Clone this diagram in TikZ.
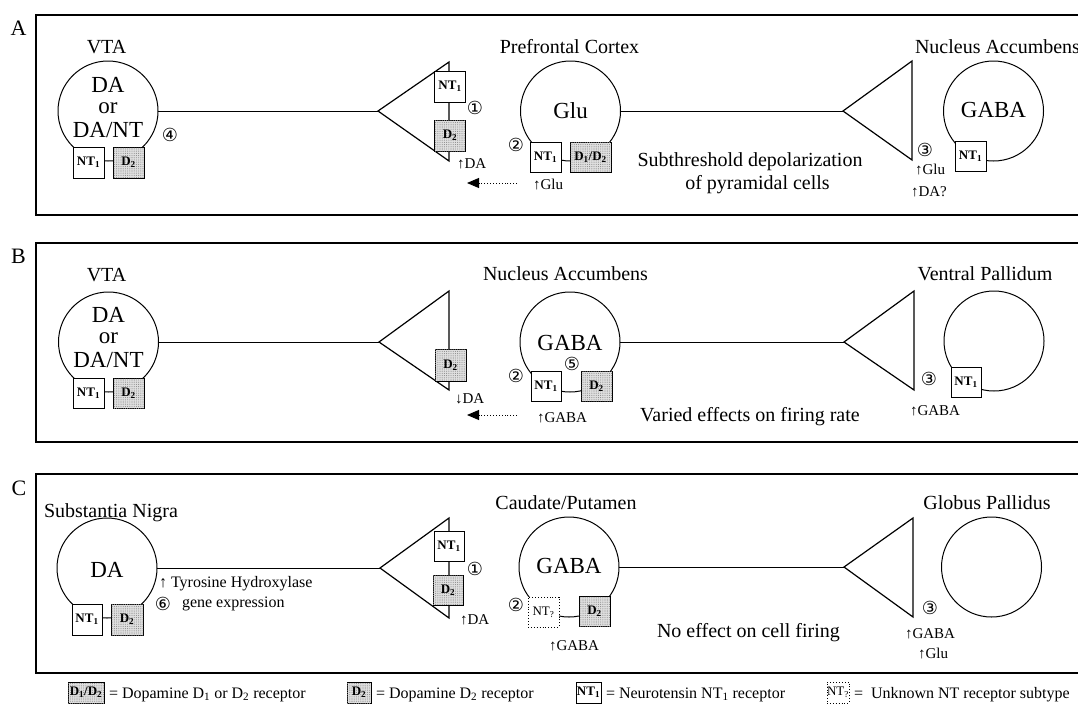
\documentclass[tikz,border=0pt]{standalone}
\usepackage{fontspec}
\setmainfont{Liberation Serif}
\newfontfamily\symfont{DejaVu Sans}
\usetikzlibrary{arrows.meta,patterns.meta}
\newcommand\setfs[1]{\fontsize{#1}{#1}\selectfont}

\begin{document}
\begin{tikzpicture}[x=1pt,y=-1pt,
  every node/.style={inner sep=0pt, outer sep=0pt},
  soma/.style={draw, circle, minimum size=100pt, line width=1pt},
  frame/.style={draw, line width=1.1pt},
  axon/.style={line width=1pt},
  term/.style={line width=1.2pt, line join=miter},
  ntbox/.style={draw, fill=white, line width=0.9pt, minimum width=31pt, minimum height=31pt,
    font=\setfs{13}\bfseries},
  dbox/.style={ntbox, fill=gray!25,
    postaction={pattern={Dots[distance=2.2pt, radius=0.55pt]}, pattern color=gray!90}},
  unkbox/.style={ntbox, dotted, font=\setfs{13}},
  letter/.style={font=\setfs{22}},
  lab/.style={font=\setfs{20}},
  big/.style={font=\setfs{23}},
  small/.style={font=\setfs{15}},
  note/.style={font=\setfs{20}},
  num/.style={font=\symfont\setfs{18}},
  leg/.style={font=\setfs{16}},
  flow/.style={dotted, line width=0.9pt, -{Triangle[length=12pt, width=10pt]}}
]
\useasboundingbox (0,0) rectangle (1078,710);
\clip (0,0) rectangle (1078,710);

% ---------------- panel frames and letters
\draw[frame] (36,15) rectangle (1110,215);
\draw[frame] (36,243) rectangle (1110,442);
\draw[frame] (36,474) rectangle (1110,673);
\node[letter, anchor=base] (pA) at (18.5,35) {A};
\node[letter, anchor=base] (pB) at (18.5,263) {B};
\node[letter, anchor=base] (pC) at (19,495) {C};

% ================= Panel A =================
\node[soma] (vtaA) at (108,111) {};
\node[soma] (pfcA) at (570.5,111) {};
\node[soma] (nacA) at (993.5,111) {};
\coordinate (tipA1) at (378,111); \coordinate (topA1) at (449,62); \coordinate (botA1) at (449,161);
\coordinate (tipA2) at (843,111); \coordinate (topA2) at (912,61); \coordinate (botA2) at (912,160);
\draw[axon] (vtaA.east) -- (tipA1);
\draw[axon] (pfcA.east) -- (tipA2);
\draw[term] (tipA1) -- (topA1) -- (botA1) -- cycle;
\draw[term] (tipA2) -- (topA2) -- (botA2) -- cycle;

\node[ntbox] (vtaAnt) at (88.5,162.5) {NT\textsubscript{1}};
\node[dbox] (vtaAd) at (128.5,162.5) {D\textsubscript{2}};
\node[ntbox] (trmAnt) at (450,86.5) {NT\textsubscript{1}};
\node[dbox] (trmAd) at (450,135.5) {D\textsubscript{2}};
\node[ntbox, minimum height=30pt] (pfcAnt) at (545.5,157) {NT\textsubscript{1}};
\node[dbox, minimum width=41pt, minimum height=30pt] (pfcAd) at (590.5,157) {D\textsubscript{1}/D\textsubscript{2}};
\node[ntbox, minimum height=30pt] (nacAnt) at (970.5,156) {NT\textsubscript{1}};

\node[lab, anchor=base] (vtaAname) at (106.5,53) {VTA};
\node[lab, anchor=base] (pfcAname) at (569.5,53) {Prefrontal Cortex};
\node[lab, anchor=base west] (nacAname) at (915,53) {Nucleus Accumbens};
\node[big, anchor=base] (vtaAt1) at (108,92) {DA};
\node[big, anchor=base] (vtaAt2) at (108,113) {or};
\node[big, anchor=base] (vtaAt3) at (108,137) {DA/NT};
\node[big, anchor=base] (pfcAt) at (570.5,118) {Glu};
\node[big, anchor=base] (nacAt) at (993.5,117) {GABA};
\node[num] (nA4) at (170,135) {④};
\node[num] (nA1) at (475,108) {①};
\node[num] (nA2) at (516,145) {②};
\node[num] (nA3) at (925,150) {③};
\node[small, anchor=base west] (daA) at (457,168) {↑DA};
\node[small, anchor=base west] (gluA) at (533,189) {↑Glu};
\node[small, anchor=base west] (gluA2) at (915,174) {↑Glu};
\node[small, anchor=base west] (daA2) at (911,196) {↑DA?};
\node[note, anchor=base] (effA1) at (750,166) {Subthreshold depolarization};
\node[note, anchor=base] (effA2) at (757.5,189) {of pyramidal cells};
\coordinate (arrAs) at (517,183); \coordinate (arrAe) at (467,183);
\draw[flow] (arrAs) -- (arrAe);

% ================= Panel B =================
\node[soma] (vtaB) at (108.5,342) {};
\node[soma] (nacB) at (570,342) {};
\node[soma] (vpB) at (994,341) {};
\coordinate (tipB1) at (379,342); \coordinate (topB1) at (449,291); \coordinate (botB1) at (449,390);
\coordinate (tipB2) at (844,342); \coordinate (topB2) at (914,291); \coordinate (botB2) at (914,390);
\draw[axon] (vtaB.east) -- (tipB1);
\draw[axon] (nacB.east) -- (tipB2);
\draw[term] (tipB1) -- (topB1) -- (botB1) -- cycle;
\draw[term] (tipB2) -- (topB2) -- (botB2) -- cycle;

\node[ntbox, minimum height=30pt] (vtaBnt) at (88.5,393) {NT\textsubscript{1}};
\node[dbox, minimum height=30pt] (vtaBd) at (128.5,393) {D\textsubscript{2}};
\node[dbox, minimum height=32pt] (trmBd) at (450.5,365) {D\textsubscript{2}};
\node[ntbox, minimum width=30pt, minimum height=30pt] (nacBnt) at (546,386) {NT\textsubscript{1}};
\node[dbox, minimum height=30pt] (nacBd) at (596.5,386) {D\textsubscript{2}};
\node[ntbox, minimum width=30pt, minimum height=30pt] (vpBnt) at (966,382) {NT\textsubscript{1}};

\node[lab, anchor=base] (vtaBname) at (106.5,281) {VTA};
\node[lab, anchor=base] (nacBname) at (565.5,280) {Nucleus Accumbens};
\node[lab, anchor=base] (vpBname) at (985,280) {Ventral Pallidum};
\node[big, anchor=base] (vtaBt1) at (108.5,322) {DA};
\node[big, anchor=base] (vtaBt2) at (108.5,343) {or};
\node[big, anchor=base] (vtaBt3) at (108.5,367) {DA/NT};
\node[big, anchor=base] (nacBt) at (570,350) {GABA};
\node[num] (nB5) at (572,364) {⑤};
\node[num] (nB2) at (516,376) {②};
\node[num] (nB3) at (929,379) {③};
\node[small, anchor=base west] (daB) at (455,403) {↓DA};
\node[small, anchor=base west] (gabaB) at (537,422) {↑GABA};
\node[small, anchor=base west] (gabaB2) at (910,415) {↑GABA};
\node[note, anchor=base] (effB) at (750,421) {Varied effects on firing rate};
\coordinate (arrBs) at (517,415); \coordinate (arrBe) at (467,415);
\draw[flow] (arrBs) -- (arrBe);

% ================= Panel C =================
\node[soma] (snC) at (107,568) {};
\node[soma] (cpC) at (569,567) {};
\node[soma] (gpC) at (991.5,567) {};
\coordinate (tipC1) at (380,568); \coordinate (topC1) at (449,518); \coordinate (botC1) at (449,618);
\coordinate (tipC2) at (844,567); \coordinate (topC2) at (913,518); \coordinate (botC2) at (913,617);
\draw[axon] (snC.east) -- (tipC1);
\draw[axon] (cpC.east) -- (tipC2);
\draw[term] (tipC1) -- (topC1) -- (botC1) -- cycle;
\draw[term] (tipC2) -- (topC2) -- (botC2) -- cycle;

\node[ntbox, minimum width=30pt] (snCnt) at (87,619.5) {NT\textsubscript{1}};
\node[dbox, minimum width=32pt] (snCd) at (127,619.5) {D\textsubscript{2}};
\node[ntbox, minimum width=30pt, minimum height=30pt] (trmCnt) at (449,546) {NT\textsubscript{1}};
\node[dbox, minimum width=30pt, minimum height=30pt] (trmCd) at (448,590) {D\textsubscript{2}};
\node[unkbox, minimum height=30pt] (cpCnt) at (543.5,612) {NT\textsubscript{?}};
\node[dbox, minimum height=30pt] (cpCd) at (594.5,611) {D\textsubscript{2}};

\node[lab, anchor=base west] (snCname) at (44,517) {Substantia Nigra};
\node[lab, anchor=base] (cpCname) at (566,509) {Caudate/Putamen};
\node[lab, anchor=base] (gpCname) at (987,509) {Globus Pallidus};
\node[big, anchor=base] (snCt) at (107,577) {DA};
\node[big, anchor=base] (cpCt) at (569,573) {GABA};
\node[num] (nC1) at (475,569) {①};
\node[num] (nC2) at (516,605) {②};
\node[num] (nC3) at (930,608) {③};
\node[num] (nC6) at (163,604) {⑥};
\node[small, anchor=base west, font=\setfs{16}] (thC) at (159,587) {↑ Tyrosine Hydroxylase};
\node[small, anchor=base west, font=\setfs{16}] (geneC) at (182,607) {gene expression};
\node[small, anchor=base west] (daC) at (460,624) {↑DA};
\node[small, anchor=base west] (gabaC) at (549,650) {↑GABA};
\node[small, anchor=base west] (gabaC2) at (905,638) {↑GABA};
\node[small, anchor=base west] (gluC2) at (918,658) {↑Glu};
\node[note, anchor=base west] (effC) at (657,637) {No effect on cell firing};

% ================= Key =================
\node[dbox, minimum width=36pt, minimum height=21pt, font=\setfs{13}\bfseries] (key1) at (86,692.5) {D\textsubscript{1}/D\textsubscript{2}};
\node[leg, anchor=base west] (key1t) at (109,698) {= Dopamine D\textsubscript{1} or D\textsubscript{2} receptor};
\node[dbox, minimum width=24pt, minimum height=21pt, font=\setfs{13}\bfseries] (key2) at (359,692.5) {D\textsubscript{2}};
\node[leg, anchor=base west] (key2t) at (376,698) {= Dopamine D\textsubscript{2} receptor};
\node[ntbox, minimum width=25pt, minimum height=21pt, font=\setfs{13}\bfseries] (key3) at (588.5,692.5) {NT\textsubscript{1}};
\node[leg, anchor=base west] (key3t) at (606,698) {= Neurotensin NT\textsubscript{1} receptor};
\node[unkbox, minimum width=22pt, minimum height=21pt, font=\setfs{13}] (key4) at (838,692.5) {NT\textsubscript{?}};
\node[leg, anchor=base west] (key4t) at (854,698) {=\ \ Unknown NT receptor subtype};
\end{tikzpicture}
\end{document}
